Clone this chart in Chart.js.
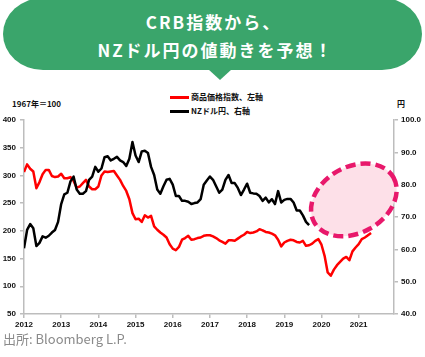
<!DOCTYPE html>
<html><head><meta charset="utf-8">
<script src="https://cdn.jsdelivr.net/npm/chart.js@4"></script>
<style>
html,body{margin:0;padding:0;background:#fff;width:425px;height:357px;overflow:hidden;font-family:"Noto Sans CJK JP","Noto Sans",sans-serif;}
#wrap{position:absolute;left:0;top:0;width:425px;height:357px;}
#banner{position:absolute;left:3px;top:-2px;width:419px;height:72px;background:#3aa56b;border-radius:40px/36px;}
#tri{position:absolute;left:208px;top:69px;width:0;height:0;border-left:12px solid transparent;border-right:12px solid transparent;border-top:11px solid #3aa56b;}
.t{position:absolute;color:#fff;font-weight:bold;font-size:17px;letter-spacing:2px;white-space:nowrap;text-align:center;width:425px;left:0;line-height:20px;}
.lbl{position:absolute;font-size:8px;font-weight:bold;color:#111;white-space:nowrap;line-height:10px;}
.sw{position:absolute;height:2.5px;width:19px;}
#src{position:absolute;left:3px;top:330px;font-size:13px;color:#8a8a8a;white-space:nowrap;line-height:18px;font-family:"Noto Sans CJK JP",sans-serif;}
canvas{position:absolute;left:0;top:0;}
</style></head>
<body><div id="wrap">
<div id="banner"></div><div id="tri"></div>
<div class="t" style="top:12px;left:1px">CRB指数から、</div>
<div class="t" style="top:40px;left:3px">NZドル円の値動きを予想！</div>
<div class="sw" style="left:170px;top:96px;background:#ff0000"></div>
<div class="lbl" style="left:191px;top:92px">商品価格指数、左軸</div>
<div class="sw" style="left:170px;top:110px;background:#000"></div>
<div class="lbl" style="left:191px;top:106px">NZドル円、右軸</div>
<div class="lbl" style="left:12px;top:99px">1967年＝100</div>
<div class="lbl" style="left:397px;top:99px">円</div>
<canvas id="c" width="425" height="357"></canvas>
<div id="src">出所: Bloomberg L.P.</div>
</div>
<script>
// Monthly values starting January 2012
const startYear = 2012;
const crbIndex = [306,320,312,307,277,288,302,310,310,299,297,298,
303,295,295,297,290,278,280,286,292,280,275,275,
280,300,307,306,307,308,300,292,281,272,257,232,
221,222,216,228,224,227,208,202,197,193,188,176,
168,165,171,184,187,191,184,185,187,188,191,192,
192,190,187,183,180,177,183,183,182,186,190,193,
198,196,197,199,203,201,198,197,195,192,184,172,
179,182,184,183,180,179,182,173,174,177,182,185,
175,155,125,119,130,138,144,150,153,147,163,170,
176,185,188,192,196];
const nzdJpy = [60.3,66,67.8,66.5,61,62,64,63.6,64.2,65.2,66,68.5,
74,77,77.5,81,82.5,78.5,77.2,77.2,78,81.5,82.5,85.5,
84,85,88.5,88.8,87.5,88,88.6,87.5,87,85.8,88,93.2,
89,87,90.3,90.5,89.8,85.5,83,78.5,77.2,79.5,81.5,81.8,
80,76.5,76.5,75,75,74.7,74,74.3,74.5,75.5,80,81.3,
82.5,81.5,79.5,77.5,78.5,81.5,83,80.5,80.5,79,76.8,78.5,
80.3,77.5,77.3,77.2,76.5,75,76,74.5,75.5,74,78,74.5,
75.3,75.6,75.6,74.5,72,72,70.5,68.5,67.5];
const yearTicks = [2012,2013,2014,2015,2016,2017,2018,2019,2020,2021];
const leftTicks = [50,100,150,200,250,300,350,400];
const rightTicks = [40,50,60,70,80,90,100];
const highlight = {year:2020.87, yen:75.3};

const toPts = arr => arr.map((v,i)=>({x:startYear+i/12,y:v}));

const ellipsePlugin = {
  id:'ell',
  afterDatasetsDraw(chart){
    const {ctx,scales} = chart;
    const cx = scales.x.getPixelForValue(highlight.year);
    const cy = scales.yR.getPixelForValue(highlight.yen);
    ctx.save();
    ctx.beginPath();
    ctx.ellipse(cx,cy,45.5,33,-0.515,0,Math.PI*2);
    ctx.fillStyle='#fde0e8';
    ctx.fill();
    ctx.setLineDash([10,5]);
    ctx.lineWidth=4.5;
    ctx.strokeStyle='#e8186b';
    ctx.stroke();
    ctx.restore();
  }
};

const tickFont = {family:'"Liberation Sans", Arial, sans-serif', size:8, weight:'bold'};
const axisGrey = '#bdbdbd';

new Chart(document.getElementById('c'),{
  type:'line',
  data:{datasets:[
    {data:toPts(nzdJpy),yAxisID:'yR',borderColor:'#000',borderWidth:2.5,pointRadius:0,tension:0,order:0,borderJoinStyle:'round'},
    {data:toPts(crbIndex),yAxisID:'yL',borderColor:'#ff0000',borderWidth:2.5,pointRadius:0,tension:0,order:1,borderJoinStyle:'round'}
  ]},
  options:{
    responsive:false,animation:false,devicePixelRatio:1,
    layout:{padding:{top:120,left:0,right:0,bottom:0}},
    plugins:{legend:{display:false},tooltip:{enabled:false}},
    scales:{
      x:{type:'linear',min:2012,max:2021.95,
        afterFit(s){s.height=43;},
        afterBuildTicks(s){s.ticks=yearTicks.map(v=>({value:v}));},
        ticks:{font:tickFont,color:'#111',padding:2,maxRotation:0,callback:v=>String(v)},
        grid:{drawOnChartArea:false,tickLength:4,color:axisGrey,lineWidth:1.5},
        border:{color:axisGrey,width:1.5}},
      yL:{type:'linear',position:'left',min:50,max:400,
        afterFit(s){s.width=24;},
        afterBuildTicks(s){s.ticks=leftTicks.map(v=>({value:v}));},
        ticks:{font:tickFont,color:'#111',padding:4},
        grid:{drawOnChartArea:false,tickLength:4,color:axisGrey,lineWidth:1.5},
        border:{color:axisGrey,width:1.5}},
      yR:{type:'linear',position:'right',min:40,max:100,
        afterFit(s){s.width=31;},
        afterBuildTicks(s){s.ticks=rightTicks.map(v=>({value:v}));},
        ticks:{font:tickFont,color:'#111',padding:3,callback:v=>v.toFixed(1)},
        grid:{drawOnChartArea:false,tickLength:4,color:axisGrey,lineWidth:1.5},
        border:{color:axisGrey,width:1.5}}
    }
  },
  plugins:[ellipsePlugin]
});
</script>
</body></html>
